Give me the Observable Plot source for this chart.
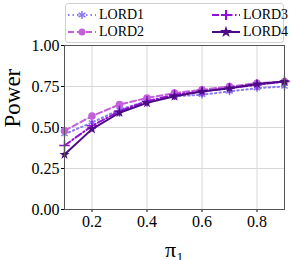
<!DOCTYPE html>
<html><head><meta charset="utf-8">
<script src="https://cdn.jsdelivr.net/npm/d3@7"></script>
<script src="https://cdn.jsdelivr.net/npm/@observablehq/plot@0.6"></script>
<style>
body{margin:0;background:#fff;}
#wrap{position:relative;width:291px;height:260px;font-family:"Liberation Serif",serif;}
#legend{position:absolute;left:65px;top:3px;width:219px;height:40px;border:1px solid #d0d0d0;border-radius:3px;background:#fff;box-sizing:border-box;}
.item{position:absolute;display:flex;align-items:center;font-size:14px;color:#000;}
.item svg{margin-right:3px;}
</style></head>
<body><div id="wrap"><div id="legend"></div></div>
<script>
const pis = [0.1,0.2,0.3,0.4,0.5,0.6,0.7,0.8,0.9];
const lord1 = [0.46,0.53,0.61,0.66,0.69,0.70,0.72,0.74,0.75];
const lord2 = [0.48,0.57,0.64,0.68,0.71,0.73,0.75,0.77,0.78];
const lord3 = [0.39,0.51,0.60,0.66,0.70,0.72,0.74,0.76,0.78];
const lord4 = [0.335,0.49,0.59,0.65,0.69,0.72,0.74,0.765,0.78];
const names = ["LORD1","LORD2","LORD3","LORD4"];
const colors = ["#8a7cf0","#c160d8","#9410d6","#4d0a86"];
const dashes = ["1.5,3","6,3","7,2.5,1.5,2.5",null];
const symbols = ["asterisk","circle","plus","star"];
const yTicks = [0,0.25,0.5,0.75,1];
const xTicks = [0.2,0.4,0.6,0.8];
const series = [lord1,lord2,lord3,lord4];
const data = series.flatMap((s,i)=>s.map((v,j)=>({pi:pis[j],power:v,name:names[i]})));

const marks = [
  Plot.gridX(xTicks,{stroke:"#d8d8d8",strokeOpacity:1,strokeWidth:1}),
  Plot.gridY(yTicks,{stroke:"#d8d8d8",strokeOpacity:1,strokeWidth:1}),
  Plot.axisX(xTicks,{tickFormat:d3.format(".1f"),label:null,tickSize:3,tickPadding:3,fontSize:16,fill:"#000"}),
  Plot.axisY(yTicks,{tickFormat:d3.format(".2f"),label:null,tickSize:3,tickPadding:2,fontSize:16,fill:"#000"}),
];
names.forEach((n,i)=>{
  const d = data.filter(r=>r.name===n);
  const filled = symbols[i]==="circle"||symbols[i]==="star";
  marks.push(Plot.line(d,{x:"pi",y:"power",stroke:colors[i],strokeWidth:2,strokeDasharray:dashes[i]}));
  marks.push(Plot.dot(d,{x:"pi",y:"power",symbol:()=>symbols[i],r:symbols[i]==="circle"?3.8:(filled?3.2:3.5),fill:filled?colors[i]:"none",stroke:colors[i],strokeWidth:filled?0:1.5}));
});
marks.push(Plot.frame({stroke:"#555",strokeWidth:1}));

const chart = Plot.plot({
  width:291,height:260,
  marginLeft:64,marginRight:7,marginTop:45,marginBottom:51,
  style:{fontFamily:"Liberation Serif, serif",color:"#000",background:"#fff"},
  x:{domain:[0.1,0.9]},
  y:{domain:[0,1]},
  symbol:{type:"identity"},
  marks:[
    ...marks,
    Plot.text(["π₁"],{frameAnchor:"bottom",dy:47,fontSize:22,lineAnchor:"bottom",fill:"#000"}),
    Plot.text(["Power"],{frameAnchor:"left",dx:-52,rotate:-90,fontSize:23,fill:"#000"})
  ]
});
chart.style.position="absolute";chart.style.left="0";chart.style.top="0";
const wrap=document.getElementById("wrap");
wrap.insertBefore(chart,wrap.firstChild);

const leg=document.getElementById("legend");
const pos=[[2,3],[2,20],[146,3],[146,20]];
names.forEach((n,i)=>{
  const it=document.createElement("div");it.className="item";
  it.style.left=pos[i][0]+"px";it.style.top=pos[i][1]+"px";
  const sym=symbols[i];
  let m="";
  if(sym==="circle") m=`<circle cx="14" cy="8" r="3.5" fill="${colors[i]}"/>`;
  else if(sym==="star") m=`<path d="${d3.symbol(d3.symbolStar,45)()}" transform="translate(14,8)" fill="${colors[i]}"/>`;
  else if(sym==="plus") m=`<path d="M14,3V13M9,8H19" stroke="${colors[i]}" stroke-width="2"/>`;
  else m=`<path d="${d3.symbol(d3.symbolAsterisk,45)()}" transform="translate(14,8)" stroke="${colors[i]}" stroke-width="1.5" fill="none"/>`;
  it.innerHTML=`<svg width="28" height="16"><line x1="0" y1="8" x2="28" y2="8" stroke="${colors[i]}" stroke-width="2" ${dashes[i]?`stroke-dasharray="${dashes[i]}"`:""}/>${m}</svg><span>${n}</span>`;
  leg.appendChild(it);
});
</script></body></html>
